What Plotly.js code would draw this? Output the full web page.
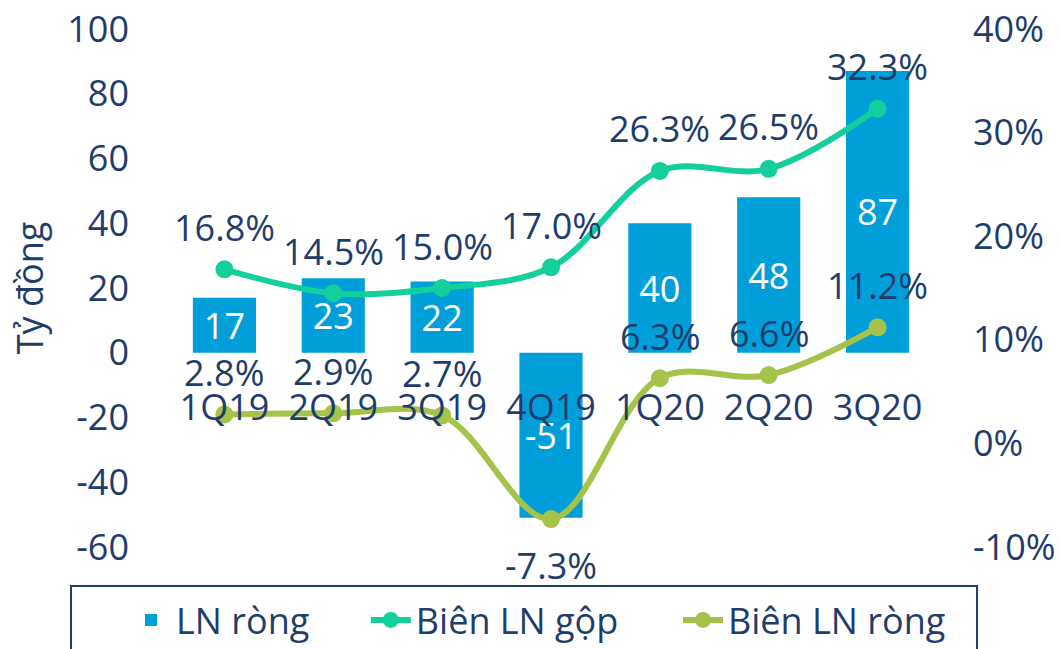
<!DOCTYPE html>
<html>
<head>
<meta charset="utf-8">
<script src="https://cdn.plot.ly/plotly-3.0.1.min.js"></script>
<style>html,body{margin:0;padding:0;background:#fff;}#chart{width:1060px;height:649px;}</style>
</head>
<body>
<div id="chart"></div>
<script>
var categories = ['1Q19','2Q19','3Q19','4Q19','1Q20','2Q20','3Q20'];
var lnRong = [17, 23, 22, -51, 40, 48, 87];
var bienGop = [16.8, 14.5, 15.0, 17.0, 26.3, 26.5, 32.3];
var bienRong = [2.8, 2.9, 2.7, -7.3, 6.3, 6.6, 11.2];
var leftTicks = [-60, -40, -20, 0, 20, 40, 60, 80, 100];
var rightTicks = [-10, 0, 10, 20, 30, 40];

var navy = '#1F3D6B';
var FONT = 'Open Sans, Noto Sans, sans-serif';
var FS = 36;

var traces = [
  {
    type: 'bar', name: 'LN ròng', x: categories, y: lnRong,
    marker: {color: '#009FDA'}, width: 0.58,
    text: lnRong.map(String), textposition: 'inside', insidetextanchor: 'middle',
    constraintext: 'none', textangle: 0,
    textfont: {color: '#FFFFFF', size: FS, family: FONT},
    hoverinfo: 'skip', legend: 'legend'
  },
  {
    type: 'scatter', mode: 'lines+markers', name: 'Biên LN gộp', x: categories, y: bienGop,
    yaxis: 'y2', line: {color: '#13CF9B', width: 6, shape: 'spline', smoothing: 1},
    marker: {color: '#13CF9B', size: 18}, hoverinfo: 'skip', legend: 'legend2'
  },
  {
    type: 'scatter', mode: 'lines+markers', name: 'Biên LN ròng', x: categories, y: bienRong,
    yaxis: 'y2', line: {color: '#A5C24A', width: 6, shape: 'spline', smoothing: 1},
    marker: {color: '#A5C24A', size: 18}, hoverinfo: 'skip', legend: 'legend3'
  }
];

var annotations = [];
categories.forEach(function (c, i) {
  annotations.push({
    x: c, y: bienGop[i], xref: 'x', yref: 'y2', yshift: 42,
    text: bienGop[i].toFixed(1) + '%', showarrow: false,
    font: {size: FS, color: navy, family: FONT}
  });
  annotations.push({
    x: c, y: bienRong[i], xref: 'x', yref: 'y2', yshift: bienRong[i] < 0 ? -46 : 42,
    text: bienRong[i].toFixed(1) + '%', showarrow: false,
    font: {size: FS, color: navy, family: FONT}
  });
});

function legendAt(x) {
  return {
    orientation: 'h', x: x, xanchor: 'left', y: -0.141, yanchor: 'middle',
    font: {size: FS, color: navy, family: FONT}, bgcolor: 'rgba(0,0,0,0)',
    itemwidth: 40
  };
}

var layout = {
  width: 1060, height: 649,
  margin: {l: 170, r: 128, t: 29, b: 102, autoexpand: false},
  paper_bgcolor: '#FFFFFF', plot_bgcolor: 'rgba(0,0,0,0)',
  font: {family: FONT, color: navy, size: FS},
  showlegend: true,
  barmode: 'relative',
  xaxis: {
    type: 'category', anchor: 'free', position: 0.375,
    showgrid: false, zeroline: false, showline: false, ticks: '',
    ticklabelstandoff: 30,
    tickfont: {size: FS, color: navy, family: FONT}
  },
  yaxis: {
    range: [-60, 100], tickmode: 'array', tickvals: leftTicks,
    ticktext: leftTicks.map(String),
    showgrid: false, zeroline: false,
    showline: false, ticks: '', ticklabelstandoff: 40,
    tickfont: {size: FS, color: navy, family: FONT},
    title: {text: 'Tỷ đồng', standoff: 12, font: {size: FS, color: navy, family: FONT}}
  },
  yaxis2: {
    overlaying: 'y', side: 'right', range: [-10, 40], tickmode: 'array',
    tickvals: rightTicks, ticktext: rightTicks.map(function (v) { return v + '%'; }),
    showgrid: false, zeroline: false, showline: false, ticks: '',
    ticklabelstandoff: 40,
    tickfont: {size: FS, color: navy, family: FONT}
  },
  legend: legendAt(-0.0577),
  legend2: legendAt(0.257),
  legend3: legendAt(0.6667),
  shapes: [{
    type: 'rect', xref: 'paper', yref: 'paper',
    x0: -0.1299, x1: 1.0591, y0: -0.0753, y1: -0.25,
    line: {color: navy, width: 2}, fillcolor: 'rgba(0,0,0,0)'
  }],
  annotations: annotations
};

Plotly.newPlot('chart', traces, layout, {displayModeBar: false, staticPlot: true});
</script>
</body>
</html>
